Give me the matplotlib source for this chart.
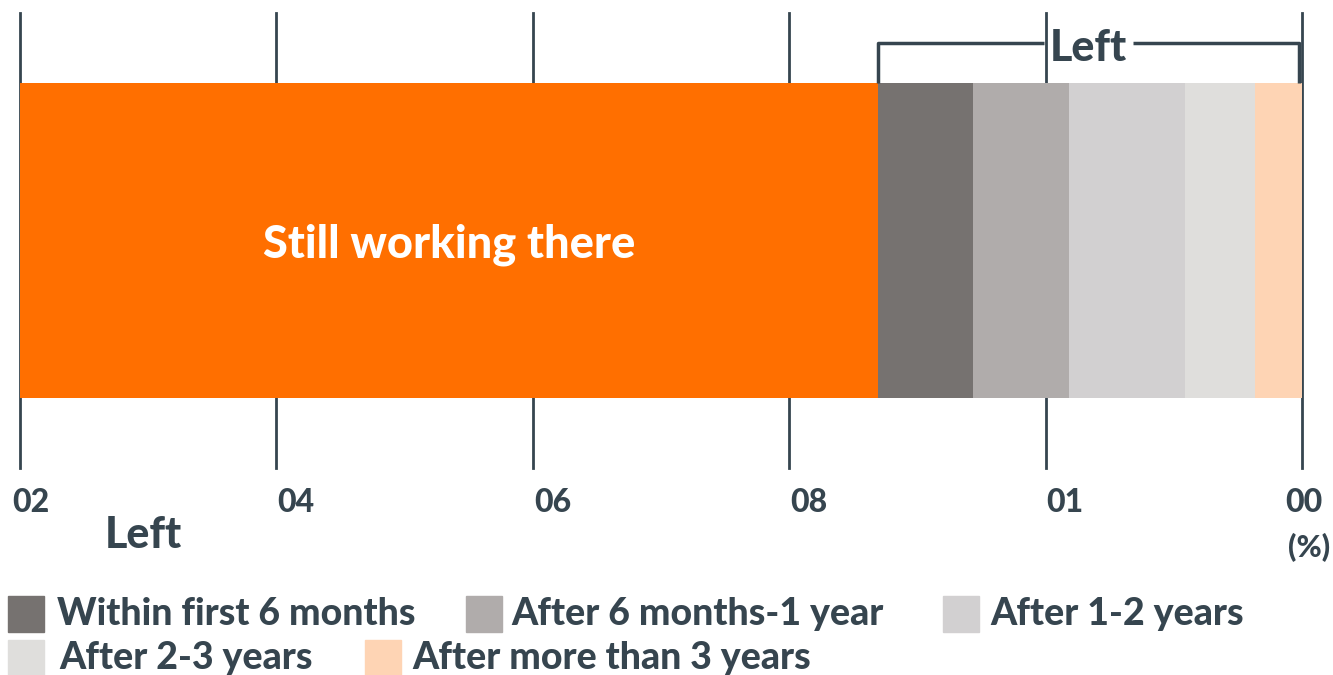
import numpy as np
import matplotlib
matplotlib.use("Agg")
import matplotlib.pyplot as plt
from matplotlib.patches import Rectangle

# data (percent of respondents)
segments = ["Still working there", "Within first 6 months", "After 6 months-1 year",
            "After 1-2 years", "After 2-3 years", "After more than 3 years"]
values = [66.9, 7.4, 7.5, 9.1, 5.4, 3.7]
colors = ["#ff6f00", "#767270", "#b0acab", "#d2d0d1", "#dfdedc", "#fed4b4"]
tick_pos = [0, 20, 40, 60, 80, 100]
tick_text = ["02", "04", "06", "08", "01", "00"]

TXT = "#36454f"
WT = 900
plt.rcParams["font.family"] = ["Lato", "DejaVu Sans"]

W, H = 1333, 675
fig = plt.figure(figsize=(W / 100, H / 100), dpi=100)
ax = fig.add_axes([20 / W, (H - 468) / H, 1282 / W, 455 / H])
ax.set_xlim(0, 100)
ax.set_ylim(0, 1)
ax.axis("off")

# grid lines (under the bar)
for t in tick_pos:
    ax.axvline(t, color=TXT, lw=2, zorder=1, clip_on=False)

# stacked bar
lefts = np.concatenate([[0], np.cumsum(values)[:-1]])
ax.barh(0.5, values, left=lefts, height=0.692, color=colors, zorder=2)
ax.text(lefts[0] + values[0] / 2, 0.49, segments[0], color="white",
        fontsize=32.5, fontweight=WT, ha="center", va="center", zorder=3)

# bracket over the "left" segments
b0, b1 = lefts[1], 99.8
yb, ytop = 0.934, 0.846
mid = (b0 + b1) / 2
gap = 3.5
ax.plot([b0, b0, mid - gap], [ytop, yb, yb], color=TXT, lw=2.5, zorder=3,
        solid_capstyle="butt", clip_on=False)
ax.plot([mid + gap, b1, b1], [yb, yb, ytop], color=TXT, lw=2.5, zorder=3,
        solid_capstyle="butt", clip_on=False)
ax.text(mid, yb - 0.01, "Left", color=TXT, fontsize=31, fontweight=WT,
        ha="center", va="center", zorder=4)

# tick labels
offsets = [-8, 1, 1, 1, 1, -17]
for t, s, o in zip(tick_pos, tick_text, offsets):
    ax.annotate(s, xy=(t, 0), xytext=(o, -35), textcoords="offset pixels",
                ha="left", va="center", fontsize=23, fontweight=WT, color=TXT)
fig.text(1330 / W, 1 - 548 / H, "(%)", ha="right", va="center",
         fontsize=22, fontweight=WT, color=TXT)
fig.text(105 / W, 1 - 535 / H, "Left", ha="left", va="center",
         fontsize=31, fontweight=WT, color=TXT)

# legend laid out in rows
legend_rows = [
    [(8, 57, 1), (466, 511, 2), (943, 990, 3)],
    [(8, 59, 4), (365, 412, 5)],
]
row_y = [614, 658]
for ry, row in zip(row_y, legend_rows):
    for sx, tx, i in row:
        fig.add_artist(Rectangle((sx / W, 1 - (ry + 18) / H), 36 / W, 36 / H,
                                 transform=fig.transFigure, color=colors[i]))
        fig.text(tx / W, 1 - ry / H, segments[i], ha="left", va="center",
                 fontsize=27, fontweight=WT, color=TXT)

fig.savefig("out.png", dpi=100)
